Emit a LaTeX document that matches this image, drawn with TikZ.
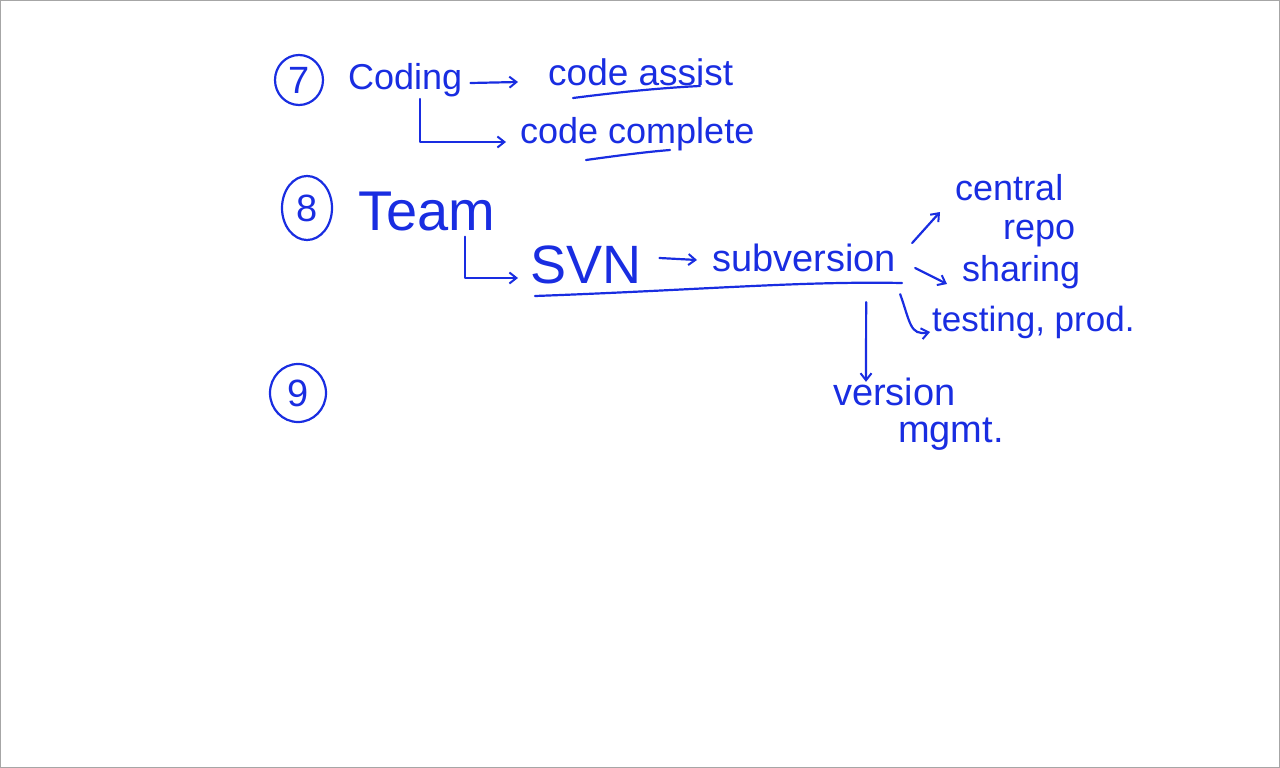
\documentclass[tikz,border=0pt]{standalone}
\usepackage{fontspec}
\setmainfont{Liberation Sans}
\usetikzlibrary{arrows.meta,shapes.geometric}
\definecolor{ink}{RGB}{25,45,225}
\tikzset{
  pen/.style={draw=ink, line width=2.2pt, line cap=round, line join=round},
  arr/.style={pen, -{Straight Barb[length=7pt,width=11pt,line width=2pt]}},
  num/.style={pen, ellipse, inner sep=0pt, text=ink, font=\fontsize{38}{38}\selectfont},
  word/.style={anchor=west, inner sep=0pt, text=ink},
}
\begin{document}
\begin{tikzpicture}[x=1pt,y=-1pt]
\useasboundingbox (0,0) rectangle (1280,768);
\draw[gray!70, line width=1pt] (0.5,0.5) rectangle (1279.5,767.5);

% section 7
\node[num, minimum width=48pt, minimum height=50pt] (n7) at (299,80) {7};
\node[word, font=\fontsize{36}{36}\selectfont] (coding) at (348,80) {Coding};
\node[word, font=\fontsize{37}{37}\selectfont] (assist) at (548,72) {code assist};
\node[word, font=\fontsize{36}{36}\selectfont] (complete) at (520,134) {code complete};
\draw[arr] ([xshift=8pt,yshift=-3pt]coding.east) -- ([xshift=-30pt,yshift=-10pt]assist.west);
\draw[arr] ([xshift=72pt,yshift=-2pt]coding.south west) |- ([xshift=-14pt,yshift=-8pt]complete.west);
\draw[pen] (573,98) .. controls (620,92) and (660,88) .. (700,86);
\draw[pen] (586,160) .. controls (615,156) and (645,152) .. (670,150);

% section 8
\node[num, minimum width=50pt, minimum height=64pt] (n8) at (307,208) {8};
\node[word, font=\fontsize{56}{56}\selectfont] (team) at (358,212) {Team};
\node[word, font=\fontsize{54}{54}\selectfont] (svn) at (530,265) {SVN};
\node[word, font=\fontsize{38}{38}\selectfont] (subv) at (712,258) {subversion};
\draw[arr] ([xshift=18pt,yshift=7pt]svn.east) -- ([xshift=-15pt,yshift=-2pt]subv.west);
\draw[arr] ([xshift=107pt,yshift=-5pt]team.south west) |- ([xshift=-12pt,yshift=-13pt]svn.west);
\draw[pen] (535,296) .. controls (700,290) and (800,281) .. (902,283);

\node[word, font=\fontsize{36}{36}\selectfont] (central) at (955,188) {central};
\node[word, font=\fontsize{36}{36}\selectfont] (repo) at (1003,234) {repo};
\node[word, font=\fontsize{36}{36}\selectfont] (sharing) at (962,272) {sharing};
\node[word, font=\fontsize{35}{35}\selectfont] (testing) at (932,322) {testing, prod.};
\node[word, font=\fontsize{38}{38}\selectfont] (version) at (833,392) {version};
\node[word, font=\fontsize{38}{38}\selectfont] (mgmt) at (898,434) {mgmt.};

\draw[arr] ([xshift=16pt,yshift=15pt]subv.east) -- ([xshift=-15pt,yshift=-24pt]central.west);
\draw[arr] ([xshift=19pt,yshift=-10pt]subv.east) -- ([xshift=-15pt,yshift=-12pt]sharing.west);
\draw[arr] ([xshift=4pt,yshift=-22pt]subv.south east) .. controls ([xshift=14pt,yshift=-50pt]subv.south east) and ([xshift=-22pt,yshift=-14pt]testing.west) .. ([xshift=-2pt,yshift=-10pt]testing.west);
\draw[arr] ([xshift=-30pt,yshift=-30pt]subv.south east) -- ([xshift=33pt,yshift=-4pt]version.north west);

% section 9
\node[num, minimum width=56pt, minimum height=58pt] (n9) at (298,393) {9};
\end{tikzpicture}
\end{document}
